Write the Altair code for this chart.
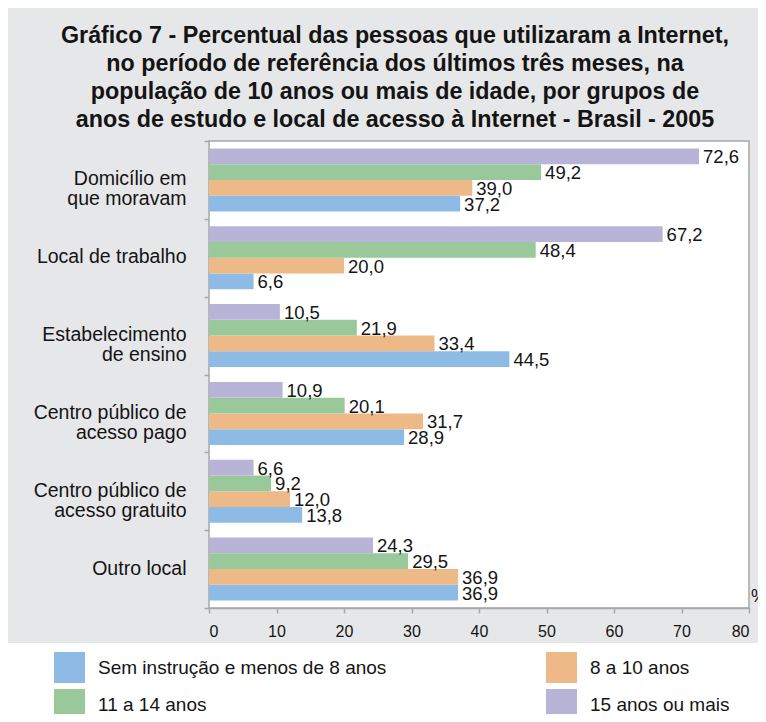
import altair as alt
import pandas as pd

# ---- data ----
categories = [
    "Domicílio em\nque moravam",
    "Local de trabalho",
    "Estabelecimento\nde ensino",
    "Centro público de\nacesso pago",
    "Centro público de\nacesso gratuito",
    "Outro local",
]
series = [
    "Sem instrução e menos de 8 anos",
    "8 a 10 anos",
    "11 a 14 anos",
    "15 anos ou mais",
]
vals_sem_instrucao = [37.2, 6.6, 44.5, 28.9, 13.8, 36.9]
vals_8_10 = [39.0, 20.0, 33.4, 31.7, 12.0, 36.9]
vals_11_14 = [49.2, 48.4, 21.9, 20.1, 9.2, 29.5]
vals_15_mais = [72.6, 67.2, 10.5, 10.9, 6.6, 24.3]
colors = ["#8DBBE6", "#EDBA87", "#99C99B", "#B8B4D8"]
x_ticks = [0, 10, 20, 30, 40, 50, 60, 70, 80]
# legend reads row by row: Sem instrução / 8 a 10 on the first row
legend_order = [series[0], series[2], series[1], series[3]]
title_lines = [
    "Gráfico 7 - Percentual das pessoas que utilizaram a Internet,",
    "no período de referência dos últimos três meses, na",
    "população de 10 anos ou mais de idade, por grupos de",
    "anos de estudo e local de acesso à Internet - Brasil - 2005",
]

rows = []
for s, vals in zip(series, [vals_sem_instrucao, vals_8_10, vals_11_14, vals_15_mais]):
    for c, v in zip(categories, vals):
        rows.append({"local": c, "grupo": s, "valor": v,
                     "rotulo": f"{v:.1f}".replace(".", ",")})
df = pd.DataFrame(rows)

FONT = "Liberation Sans, Arial, sans-serif"
GRAY_LINE = "#A8A8A8"
TEXT = "#141414"

base = alt.Chart(df).encode(
    y=alt.Y(
        "local:N",
        sort=categories,
        scale=alt.Scale(paddingInner=0, paddingOuter=0),
        axis=alt.Axis(
            title=None,
            domain=False,
            tickBand="extent",
            tickSize=5,
            tickColor=GRAY_LINE,
            tickWidth=1.5,
            labelFont=FONT,
            labelFontSize=19.5,
            labelColor=TEXT,
            labelPadding=18,
            labelAlign="right",
            labelBaseline="top",
            labelOffset=-10,
            labelLineHeight=20,
            labelLimit=400,
            labelExpr="split(datum.label, '\\n')",
        ),
    ),
    yOffset=alt.YOffset(
        "grupo:N",
        sort=series[::-1],
        scale=alt.Scale(paddingInner=0, paddingOuter=0.47),
    ),
    x=alt.X(
        "valor:Q",
        scale=alt.Scale(domain=[0, 80], nice=False),
        axis=alt.Axis(
            values=x_ticks,
            format="d",
            grid=False,
            domainColor=GRAY_LINE,
            domainWidth=1.5,
            tickColor=GRAY_LINE,
            tickWidth=1.5,
            tickSize=5,
            labelFont=FONT,
            labelFontSize=16,
            labelColor=TEXT,
            labelPadding=10,
            title="%",
            titleFont=FONT,
            titleFontSize=18,
            titleFontWeight="normal",
            titleColor=TEXT,
            titleAlign="left",
            titleBaseline="middle",
            titleAnchor="end",
            titleX=541.5,
            titleY=-12,
        ),
    ),
)

bars = base.mark_bar().encode(
    color=alt.Color(
        "grupo:N",
        scale=alt.Scale(domain=series, range=colors),
        legend=alt.Legend(
            title=None,
            values=legend_order,
            orient="none",
            legendX=-155,
            legendY=511,
            columns=2,
            columnPadding=159,
            rowPadding=6,
            symbolType="square",
            symbolSize=961,
            symbolStrokeWidth=0,
            symbolOpacity=1,
            labelFont=FONT,
            labelFontSize=19,
            labelColor=TEXT,
            labelOffset=13,
            labelLimit=500,
        ),
    )
)

labels = base.mark_text(
    align="left", baseline="middle", dx=4, dy=1,
    font=FONT, fontSize=18.5, color=TEXT,
).encode(text="rotulo:N")

# white panel behind the legend (below the grey chart panel)
white_panel = alt.Chart(pd.DataFrame({"z": [0]})).mark_rect(color="white").encode(
    x=alt.value(-201), x2=alt.value(549), y=alt.value(502), y2=alt.value(573)
)

chart = (
    alt.layer(white_panel, bars, labels)
    .properties(
        width=540,
        height=467,
        autosize=alt.AutoSizeParams(type="none"),
        padding={"left": 201, "top": 133, "right": 9, "bottom": 106},
        background="#E6E7E8",
        title=alt.TitleParams(
            text=title_lines,
            font=FONT,
            fontSize=23.3,
            fontWeight="bold",
            lineHeight=28,
            color=TEXT,
            anchor="middle",
            frame="group",
            dx=-84,
            offset=8,
        ),
    )
    .configure_view(fill="white", stroke=GRAY_LINE, strokeWidth=1.5)
)

chart.save("out.html", embed_options={"renderer": "svg", "actions": False})
